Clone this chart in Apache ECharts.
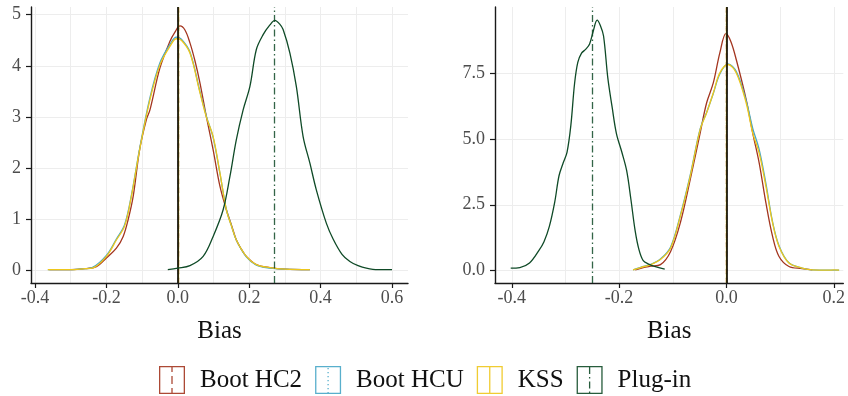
<!DOCTYPE html>
<html><head><meta charset="utf-8">
<script src="https://cdn.jsdelivr.net/npm/echarts@6/dist/echarts.min.js"></script>
<style>html,body{margin:0;padding:0;background:#fff}#c{width:848px;height:396px}</style>
</head><body><div id="c"></div>
<script>
const seriesNames = ['Boot HC2', 'Boot HCU', 'KSS', 'Plug-in'];
const colors = ['#A3351F', '#46A6C6', '#EEC71C', '#0F4A27'];

// Left panel densities [bias, density]
const leftHC2 = [[-0.36,0.02],[-0.3,0.02],[-0.26,0.04],[-0.228,0.08],[-0.2,0.25],[-0.172,0.44],[-0.153,0.67],[-0.139,1.0],[-0.125,1.45],[-0.107,2.36],[-0.088,2.95],[-0.078,3.14],[-0.05,3.96],[-0.022,4.48],[-0.008,4.66],[0.006,4.78],[0.02,4.7],[0.034,4.45],[0.048,4.1],[0.062,3.67],[0.08,3.01],[0.099,2.36],[0.118,1.65],[0.136,1.19],[0.15,0.9],[0.164,0.6],[0.178,0.42],[0.192,0.28],[0.22,0.12],[0.258,0.06],[0.3,0.03],[0.37,0.02]];
const leftHCU = [[-0.364,0.02],[-0.3,0.02],[-0.26,0.04],[-0.24,0.06],[-0.2,0.3],[-0.172,0.62],[-0.149,0.9],[-0.13,1.47],[-0.107,2.38],[-0.078,3.38],[-0.05,4.06],[-0.022,4.42],[-0.004,4.56],[0.01,4.52],[0.034,4.27],[0.062,3.5],[0.08,3.02],[0.099,2.6],[0.118,1.9],[0.136,1.2],[0.15,0.88],[0.164,0.6],[0.192,0.27],[0.22,0.11],[0.258,0.05],[0.3,0.03],[0.37,0.02]];
const leftKSS = [[-0.364,0.02],[-0.3,0.02],[-0.26,0.04],[-0.24,0.05],[-0.2,0.28],[-0.172,0.6],[-0.149,0.87],[-0.13,1.45],[-0.107,2.36],[-0.078,3.34],[-0.05,4.02],[-0.022,4.38],[-0.004,4.53],[0.01,4.5],[0.034,4.25],[0.062,3.48],[0.08,3.0],[0.099,2.62],[0.118,1.91],[0.136,1.19],[0.15,0.88],[0.164,0.6],[0.192,0.28],[0.22,0.12],[0.258,0.06],[0.3,0.03],[0.37,0.02]];
const leftPlug = [[-0.028,0.02],[0,0.05],[0.034,0.1],[0.071,0.28],[0.099,0.67],[0.127,1.19],[0.146,1.84],[0.164,2.56],[0.183,3.14],[0.202,3.6],[0.22,4.32],[0.239,4.61],[0.258,4.8],[0.272,4.89],[0.285,4.82],[0.295,4.71],[0.314,4.25],[0.332,3.6],[0.351,2.62],[0.37,2.1],[0.388,1.58],[0.416,0.93],[0.435,0.62],[0.46,0.32],[0.482,0.18],[0.505,0.1],[0.528,0.05],[0.56,0.02],[0.6,0.02]];

// Right panel densities
const rightHC2 = [[-0.17,0.03],[-0.155,0.12],[-0.141,0.17],[-0.123,0.23],[-0.104,0.73],[-0.086,1.81],[-0.0675,3.45],[-0.049,5.22],[-0.037,6.36],[-0.0245,7.12],[-0.0123,8.26],[-0.001,8.99],[0.008,8.7],[0.0184,8.0],[0.0368,6.49],[0.049,5.22],[0.061,4.09],[0.0736,2.57],[0.086,1.3],[0.098,0.54],[0.1165,0.16],[0.141,0.08],[0.16,0.03]];
const rightHCU = [[-0.174,0.03],[-0.16,0.13],[-0.141,0.24],[-0.123,0.44],[-0.104,0.9],[-0.086,2.1],[-0.0675,3.62],[-0.049,5.38],[-0.037,6.0],[-0.0245,6.72],[-0.0123,7.46],[0.003,7.84],[0.0184,7.55],[0.0368,6.45],[0.049,5.4],[0.061,4.6],[0.0736,3.3],[0.086,1.85],[0.098,0.95],[0.1165,0.3],[0.141,0.1],[0.16,0.03],[0.19,0.02],[0.21,0.02]];
const rightKSS = [[-0.174,0.03],[-0.16,0.12],[-0.141,0.23],[-0.123,0.42],[-0.104,0.86],[-0.086,2.06],[-0.0675,3.58],[-0.049,5.35],[-0.037,5.98],[-0.0245,6.74],[-0.0123,7.5],[0.003,7.82],[0.0184,7.5],[0.0368,6.36],[0.049,5.22],[0.061,4.46],[0.0736,3.2],[0.086,1.81],[0.098,0.92],[0.1165,0.29],[0.141,0.1],[0.16,0.03],[0.19,0.02],[0.2,0.03],[0.21,0.02]];
const rightPlug = [[-0.402,0.1],[-0.385,0.12],[-0.367,0.29],[-0.35,0.75],[-0.34,1.1],[-0.33,1.68],[-0.32,2.6],[-0.312,3.6],[-0.304,4.1],[-0.297,4.5],[-0.29,5.5],[-0.283,7.1],[-0.277,7.9],[-0.27,8.25],[-0.262,8.4],[-0.255,8.6],[-0.248,9.1],[-0.241,9.5],[-0.235,9.3],[-0.229,8.9],[-0.221,7.3],[-0.213,6.2],[-0.205,5.2],[-0.195,4.5],[-0.186,3.8],[-0.178,2.7],[-0.17,1.5],[-0.163,0.8],[-0.155,0.38],[-0.145,0.25],[-0.134,0.16],[-0.115,0.06]];

// Mean bias lines
const leftMeans = [0.000, -0.004, -0.004, 0.266];
const rightMeans = [0.000, 0.003, 0.003, -0.25];
const trueValue = 0;

// Ticks
const leftXTicks = [-0.4, -0.2, 0, 0.2, 0.4, 0.6];
const leftXMinor = [-0.3, -0.1, 0.1, 0.3, 0.5];
const leftYTicks = [0, 1, 2, 3, 4, 5];
const rightXTicks = [-0.4, -0.2, 0, 0.2];
const rightXMinor = [-0.3, -0.1, 0.1];
const rightYTicks = [0, 2.5, 5, 7.5];

const FONT = 'Liberation Serif';
const dashTypes = [[5, 4], [1.3, 3], 'solid', [7, 3, 1.5, 3]];

const chart = echarts.init(document.getElementById('c'), null, {renderer: 'canvas'});

const axisLineStyle = {show: true, lineStyle: {color: '#1a1a1a', width: 1.4}};
const gridLine = {color: '#EDEDED', width: 1};

function mainX(gridIndex, min, max, ticks) {
  return {
    type: 'value', gridIndex, min, max,
    name: 'Bias', nameLocation: 'middle', nameGap: 36,
    nameTextStyle: {fontFamily: FONT, fontSize: 25, color: '#111'},
    axisLine: Object.assign({onZero: false}, axisLineStyle),
    axisTick: {show: true, length: 5, customValues: ticks, lineStyle: {color: '#1a1a1a', width: 1.2}},
    axisLabel: {show: true, customValues: ticks, margin: 6, fontFamily: FONT, fontSize: 18, color: '#4D4D4D',
      formatter: v => v.toFixed(1)},
    splitLine: {show: true, customValues: ticks, lineStyle: gridLine}
  };
}
function minorX(gridIndex, min, max, ticks) {
  return {
    type: 'value', gridIndex, min, max,
    axisLine: {show: false},
    axisTick: {show: false, customValues: ticks},
    axisLabel: {show: false, customValues: ticks},
    splitLine: {show: true, customValues: ticks, lineStyle: gridLine}
  };
}
function mainY(gridIndex, min, max, ticks, fmt) {
  return {
    type: 'value', gridIndex, min, max,
    axisLine: Object.assign({onZero: false}, axisLineStyle),
    axisTick: {show: true, length: 5, customValues: ticks, lineStyle: {color: '#1a1a1a', width: 1.2}},
    axisLabel: {show: true, customValues: ticks, margin: 10, fontFamily: FONT, fontSize: 18, color: '#4D4D4D', formatter: fmt},
    splitLine: {show: true, customValues: ticks, lineStyle: gridLine}
  };
}

const panels = [
  {data: [leftHC2, leftHCU, leftKSS, leftPlug], means: leftMeans, x: 0, y: 0},
  {data: [rightHC2, rightHCU, rightKSS, rightPlug], means: rightMeans, x: 2, y: 1}
];

const series = [];
panels.forEach(p => {
  p.data.forEach((d, i) => {
    series.push({
      type: 'line', name: seriesNames[i], xAxisIndex: p.x, yAxisIndex: p.y,
      data: d, smooth: 0.35, symbol: 'none', showSymbol: false,
      color: colors[i],
      lineStyle: {color: colors[i], width: 1.3},
      z: 2 + i,
      markLine: {
        silent: true, symbol: ['none', 'none'], label: {show: false},
        lineStyle: {color: colors[i], width: 1.3, type: dashTypes[i], opacity: i === 3 ? 0.85 : 1},
        data: [{xAxis: p.means[i]}]
      }
    });
  });
  series.push({
    type: 'line', name: 'truth', xAxisIndex: p.x, yAxisIndex: p.y, data: [], z: 10,
    markLine: {
      silent: true, symbol: ['none', 'none'], label: {show: false},
      lineStyle: {color: '#000', width: 1.6, type: 'solid'},
      data: [{xAxis: trueValue}]
    }
  });
});

function vseg(y0, y1) { return ' M12.35,' + y0 + ' H13.65 V' + y1 + ' H12.35 Z'; }
const boxPath = 'M0,0 H26 V28 H0 Z M1.3,1.3 V26.7 H24.7 V1.3 Z';
const iconPaths = [
  boxPath + vseg(0, 6) + vseg(10, 18) + vseg(22, 28),
  boxPath + [2, 6, 10, 14, 18, 22, 26].map(y => vseg(y, y + 1.3)).join(''),
  boxPath + vseg(0, 28),
  boxPath + vseg(1, 8) + vseg(11, 12.5) + vseg(15.5, 22.5) + vseg(25.5, 27)
];

chart.setOption({
  animation: false,
  backgroundColor: '#fff',
  grid: [
    {left: 31, top: 7, width: 377, height: 276, containLabel: false},
    {left: 495, top: 7, width: 353, height: 276, containLabel: false}
  ],
  xAxis: [
    mainX(0, -0.4112, 0.6448, leftXTicks),
    minorX(0, -0.4112, 0.6448, leftXMinor),
    mainX(1, -0.4313, 0.2178, rightXTicks),
    minorX(1, -0.4313, 0.2178, rightXMinor)
  ],
  yAxis: [
    mainY(0, -0.24, 5.15, leftYTicks, v => String(Math.round(v))),
    mainY(1, -0.467, 10.0, rightYTicks, v => v.toFixed(1))
  ],
  legend: {
    left: 159, top: 366, padding: 0, itemWidth: 26, itemHeight: 28, itemGap: 13,
    selectedMode: false,
    data: seriesNames.map((n, i) => ({name: n, icon: 'path://' + iconPaths[i], itemStyle: {color: colors[i], opacity: 0.9}})),
    textStyle: {fontFamily: FONT, fontSize: 25, color: '#111', padding: [0, 0, 0, 10]}
  },
  series
});
</script>
</body></html>
